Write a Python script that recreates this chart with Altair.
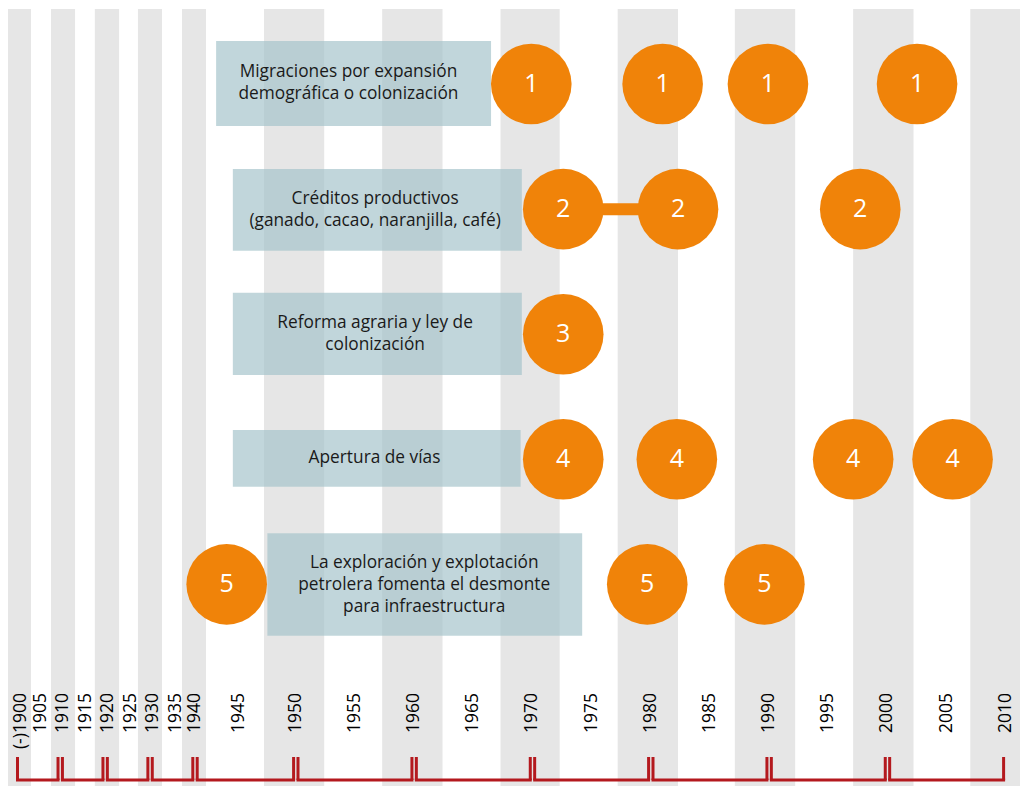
import altair as alt
import pandas as pd

# ---------------- data ----------------
# piecewise time scale: 1900-1940 compressed, 1940-2010 expanded
scale_years = [1900, 1940, 1945, 1950, 2010]
scale_px = [7.3, 187, 231, 287.8, 997.8]

row_ids = [1, 2, 3, 4, 5]
row_texts = [
    "Migraciones por expansión\ndemográfica o colonización",
    "Créditos productivos\n(ganado, cacao, naranjilla, café)",
    "Reforma agraria y ley de\ncolonización",
    "Apertura de vías",
    "La exploración y explotación\npetrolera fomenta el desmonte\npara infraestructura",
]
box_start = [1942.4, 1944.3, 1944.3, 1944.3, 1947.5]
box_end = [1966.5, 1969.1, 1969.1, 1969.0, 1974.2]
box_top = [0.656, 1.679, 2.668, 3.766, 4.592]
box_bottom = [1.335, 2.332, 3.326, 4.219, 5.411]

circle_rows = [1, 1, 1, 1, 2, 2, 2, 3, 4, 4, 4, 4, 5, 5, 5]
circle_years = [1969.9, 1981.0, 1989.9, 2002.5,
                1972.6, 1982.3, 1997.7,
                1972.6,
                1972.6, 1982.2, 1997.1, 2005.5,
                1943.6, 1979.7, 1989.6]

link_row = [2]
link_from = [1972.6]
link_to = [1982.3]

tick_years = list(range(1900, 2011, 5))
tick_labels = ["(-)1900"] + [str(y) for y in range(1905, 2011, 5)]

decades = list(range(1900, 2011, 10))
stripe_start = [1898.2, 1907.95, 1917.7, 1927.3, 1937.1, 1947.2, 1957.3,
                1967.3, 1977.2, 1987.1, 1997.1, 2007.0]
stripe_end = [1903.5, 1913.3, 1923.1, 1932.65, 1941.25, 1952.4, 1962.4,
              1972.3, 1982.3, 1992.2, 2002.2, 2012.2]

# vertical layout (row units)
y_domain = [0.4, 6.7]
stripe_top, stripe_bottom = 0.4, 6.7
label_anchor = 5.869
tick_top = 6.380
axis_level = 6.564

# ---------------- styles ----------------
ORANGE = "#f08309"
RED = "#b4191e"
STRIPE = "#e6e6e6"
BOX = "#a3c3ca"
FONT = "Open Sans"
LINE_H = 22
ROW_PX = (789 - 1) / (y_domain[1] - y_domain[0])

xs = alt.Scale(domain=scale_years, range=scale_px, nice=False, zero=False)
ys = alt.Scale(domain=y_domain, range=[1, 789], nice=False, zero=False)


def X(f):
    return alt.X(f"{f}:Q", scale=xs, axis=None)


def Y(f):
    return alt.Y(f"{f}:Q", scale=ys, axis=None)


stripes_df = pd.DataFrame({"s": stripe_start, "e": stripe_end,
                           "t": stripe_top, "b": stripe_bottom})
boxes_df = pd.DataFrame({"row": row_ids, "text": row_texts, "s": box_start,
                         "e": box_end, "t": box_top, "b": box_bottom})
nlines = boxes_df["text"].str.count("\n")
boxes_df["ty"] = (boxes_df["t"] + boxes_df["b"]) / 2 - nlines / 2 * LINE_H / ROW_PX
boxes_df["cx"] = (boxes_df["s"] + boxes_df["e"]) / 2
circles_df = pd.DataFrame({"row": circle_rows, "year": circle_years})
circles_df["num"] = circles_df["row"].astype(str)
link_df = pd.DataFrame({"row": link_row, "a": link_from, "b": link_to})
labels_df = pd.DataFrame({"year": tick_years, "label": tick_labels,
                          "y": label_anchor})
seg_df = pd.DataFrame({"a": decades[:-1], "b": decades[1:],
                       "top": tick_top, "base": axis_level})

stripes = alt.Chart(stripes_df).mark_rect(color=STRIPE).encode(
    x=X("s"), x2="e", y=Y("t"), y2="b")

boxes = alt.Chart(boxes_df).mark_rect(color=BOX, opacity=0.68).encode(
    x=X("s"), x2="e", y=Y("t"), y2="b")

box_text = alt.Chart(boxes_df).mark_text(
    font=FONT, fontSize=17.3, lineHeight=LINE_H, lineBreak="\n",
    color="#1a1a1a", align="center", baseline="middle").encode(
    x=X("cx"), y=Y("ty"), text="text:N")

link = alt.Chart(link_df).mark_rule(color=ORANGE, strokeWidth=12).encode(
    x=X("a"), x2="b", y=Y("row"))

circles = alt.Chart(circles_df).mark_circle(
    color=ORANGE, opacity=1, size=6496).encode(x=X("year"), y=Y("row"))

circle_text = alt.Chart(circles_df).mark_text(
    font=FONT, fontSize=25, color="white", align="center",
    baseline="middle").encode(x=X("year"), y=Y("row"), text="num:N")

left_v = alt.Chart(seg_df).mark_rule(color=RED, strokeWidth=3, xOffset=2.2).encode(
    x=X("a"), y=Y("top"), y2="base")
right_v = alt.Chart(seg_df).mark_rule(color=RED, strokeWidth=3, xOffset=-2.2).encode(
    x=X("b"), y=Y("top"), y2="base")
horiz = alt.Chart(seg_df).mark_rule(
    color=RED, strokeWidth=3, xOffset=2.2, x2Offset=-2.2, strokeCap="square").encode(
    x=X("a"), x2="b", y=Y("base"))

label_style = dict(font=FONT, fontSize=17.5, angle=270, align="right",
                   baseline="middle", color="black")
tick_text_first = alt.Chart(labels_df).transform_filter(
    alt.datum.year < 1905).mark_text(dy=5.5, **label_style).encode(
    x=X("year"), y=Y("y"), text="label:N")
tick_text_early = alt.Chart(labels_df).transform_filter(
    (alt.datum.year >= 1905) & (alt.datum.year < 1940)).mark_text(
    dy=3, **label_style).encode(x=X("year"), y=Y("y"), text="label:N")
tick_text_late = alt.Chart(labels_df).transform_filter(
    alt.datum.year >= 1940).mark_text(dy=0, **label_style).encode(
    x=X("year"), y=Y("y"), text="label:N")

chart = alt.layer(
    stripes, boxes, box_text, link, circles, circle_text,
    left_v, right_v, horiz, tick_text_first, tick_text_early, tick_text_late
).properties(
    width=1012, height=778, padding=0, autosize="none"
).configure_view(stroke=None)

chart.save("out.html", embed_options={"renderer": "svg", "actions": False})
